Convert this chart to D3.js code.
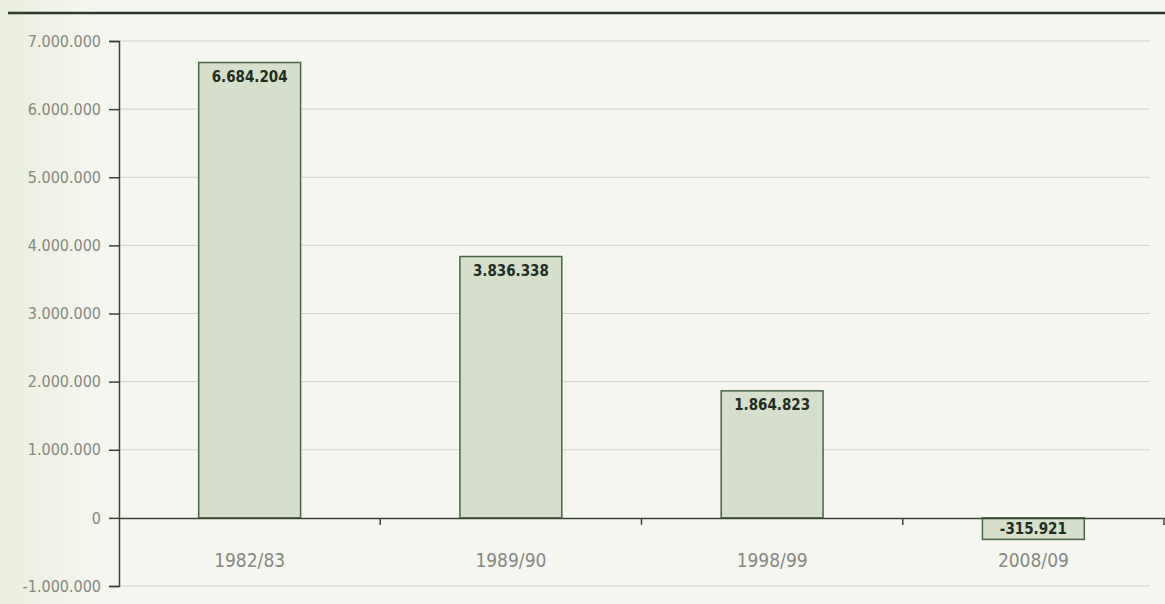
<!DOCTYPE html>
<html><head><meta charset="utf-8">
<script src="https://cdn.jsdelivr.net/npm/d3@7/dist/d3.min.js"></script>
<style>
html,body{margin:0;padding:0;background:#f5f6ef;}
svg{display:block;}
.cf{font-family:'Liberation Sans Narrow','Arial Narrow','DejaVu Sans Condensed',sans-serif;font-stretch:condensed;}
</style></head>
<body>
<svg id="chart" width="1165" height="604"></svg>
<script>
const categories = ["1982/83","1989/90","1998/99","2008/09"];
const values = [6684204, 3836338, 1864823, -315921];
const yTicks = [-1000000,0,1000000,2000000,3000000,4000000,5000000,6000000,7000000];

const fmt = v => d3.format(",")(v).replace(/,/g,".").replace("\u2212","-");

const svg = d3.select("#chart");
const W = 1165, H = 604;
const mLeft = 119, mRight = 1164, mTop = 41, mBottom = 586;

const defs = svg.append("defs");
const lg = defs.append("linearGradient").attr("id","bgL").attr("x1",0).attr("x2",1);
lg.append("stop").attr("offset","0").attr("stop-color","#e9eedc");
lg.append("stop").attr("offset","0.08").attr("stop-color","#f5f6ef");
lg.append("stop").attr("offset","1").attr("stop-color","#f6f6f1");
svg.append("rect").attr("width",W).attr("height",H).attr("fill","url(#bgL)");

// top rule
svg.append("line").attr("x1",8).attr("x2",W).attr("y1",13).attr("y2",13)
  .attr("stroke","#2f3a2e").attr("stroke-width",2.5);

const y = d3.scaleLinear().domain([-1000000,7000000]).range([mBottom, mTop]);
const x = d3.scaleBand().domain(categories).range([mLeft, mRight]).paddingInner(0.61).paddingOuter(0.305);

// gridlines
svg.append("g").selectAll("line").data(yTicks.filter(d=>d!==0)).join("line")
  .attr("x1",mLeft).attr("x2",1150)
  .attr("y1",d=>y(d)).attr("y2",d=>y(d))
  .attr("stroke","#cfd1c9").attr("stroke-width",1);

// y axis
const yAxis = d3.axisLeft(y).tickValues(yTicks).tickFormat(fmt).tickSize(10).tickPadding(8);
const gy = svg.append("g").attr("transform",`translate(${mLeft},0)`).call(yAxis);
gy.attr("font-family",null).attr("font-size",null);
gy.select(".domain").attr("stroke","#3a4436").attr("stroke-width",1.5);
gy.selectAll(".tick line").attr("stroke","#3a4436").attr("stroke-width",1.5);
gy.selectAll(".tick text").attr("fill","#858881").attr("class","cf")
  .style("font-size","16px");

// bars
svg.append("g").selectAll("rect").data(values).join("rect")
  .attr("x",(d,i)=>x(categories[i]))
  .attr("width",x.bandwidth())
  .attr("y",d=>y(Math.max(0,d)))
  .attr("height",d=>Math.abs(y(d)-y(0)))
  .attr("fill","#d6dfcb").attr("stroke","#4a6446").attr("stroke-width",1.5);

// x axis at zero
const band = d3.scaleBand().domain(categories).range([mLeft,mRight]);
const xAxis = d3.axisBottom(band).tickSize(0).tickPadding(0).tickFormat(()=> "");
const gx = svg.append("g").attr("transform",`translate(0,${y(0)})`).call(xAxis);
gx.select(".domain").attr("stroke","#3a4436").attr("stroke-width",1.5);
// category boundary ticks
svg.append("g").selectAll("line").data(categories).join("line")
  .attr("x1",d=>band(d)+band.bandwidth())
  .attr("x2",d=>band(d)+band.bandwidth())
  .attr("y1",y(0)).attr("y2",y(0)+7)
  .attr("stroke","#3a4436").attr("stroke-width",1.5);

// category labels
svg.append("g").selectAll("text").data(categories).join("text")
  .attr("class","cf")
  .attr("x",d=>band(d)+band.bandwidth()/2)
  .attr("y",567)
  .attr("text-anchor","middle")
  .attr("fill","#858881")
  .style("font-size","19px")
  .text(d=>d);

// value labels
svg.append("g").selectAll("text").data(values).join("text")
  .attr("class","cf")
  .attr("x",(d,i)=>x(categories[i])+x.bandwidth()/2)
  .attr("y",d=> d>=0 ? y(d)+19 : y(0)+16)
  .attr("text-anchor","middle")
  .attr("fill","#1f2e1f")
  .style("font-size","15px").style("font-weight","bold")
  .text(d=>fmt(d));
</script>
</body></html>
